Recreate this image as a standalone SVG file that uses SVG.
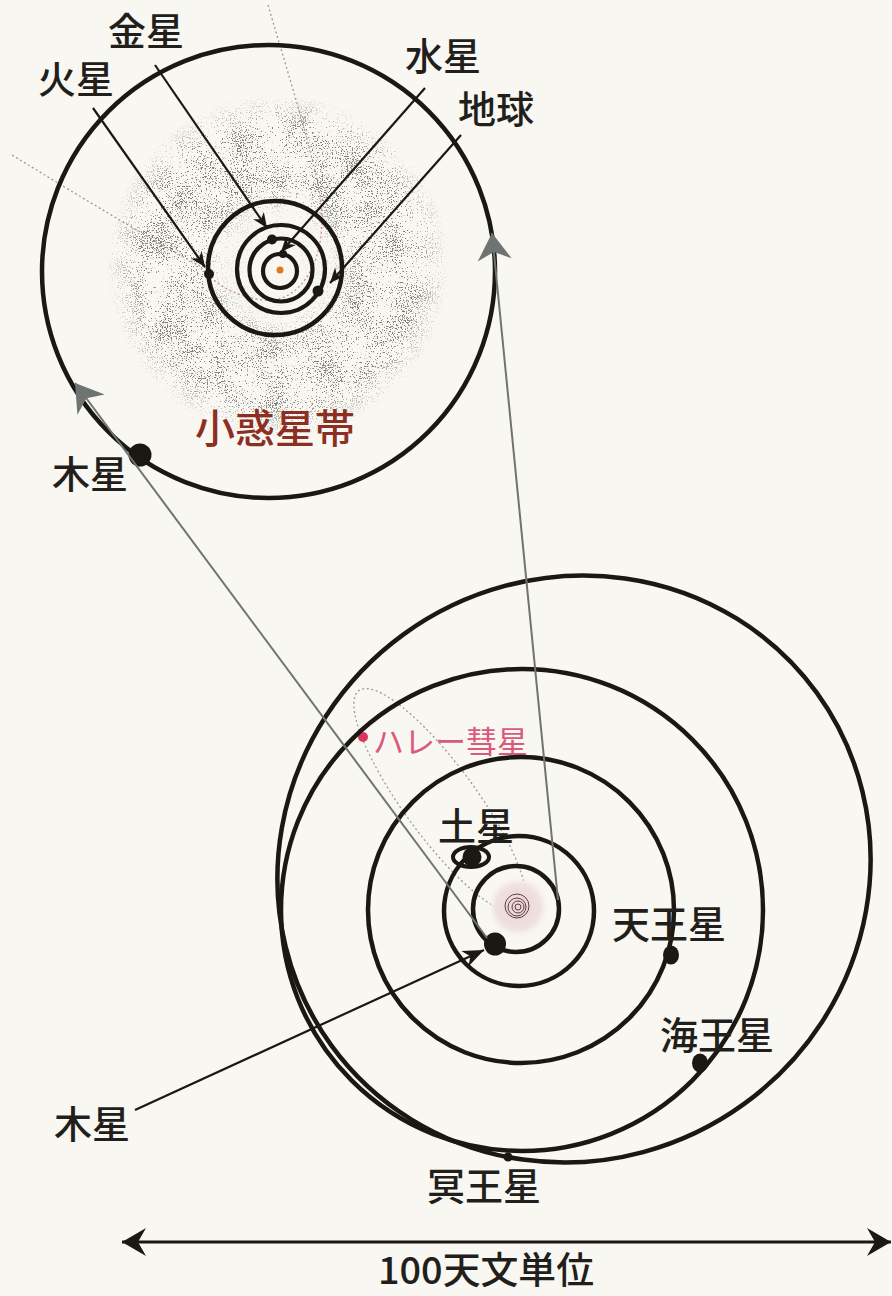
<svg xmlns="http://www.w3.org/2000/svg" width="892" height="1296" viewBox="0 0 892 1296">
  <defs>
    <style>
      .orbit { fill: none; stroke: #1b1713; stroke-width: 4.5; }
      .orbit-thin { fill: none; stroke: #1b1713; stroke-width: 4.2; }
      .planet { fill: #1b1713; }
      .lbl { font-family: "Noto Sans CJK JP", "Noto Sans CJK SC", sans-serif; font-size: 38px; font-weight: 500; fill: #221e1b; }
      .lead { stroke: #1b1713; stroke-width: 2.2; fill: none; }
      .zoomline { stroke: #6e7472; stroke-width: 2; fill: none; }
      .comet { fill: none; stroke: #9c9a98; stroke-width: 1.3; stroke-dasharray: 2 2.6; }
    </style>
    <!-- arrowheads -->
    <marker id="ahSmall" viewBox="-16 -7 17 14" refX="0" refY="0" markerWidth="17" markerHeight="14" orient="auto" markerUnits="userSpaceOnUse">
      <path d="M0,0 L-15,-6.5 L-10.5,0 L-15,6.5 Z" fill="#1b1713"/>
    </marker>
    <marker id="ahMid" viewBox="-22 -9 23 18" refX="0" refY="0" markerWidth="23" markerHeight="18" orient="auto" markerUnits="userSpaceOnUse">
      <path d="M0,0 L-21,-8.5 L-15,0 L-21,8.5 Z" fill="#1b1713"/>
    </marker>
    <marker id="ahGray" viewBox="-29 -19 30 38" refX="0" refY="0" markerWidth="30" markerHeight="38" orient="auto" markerUnits="userSpaceOnUse">
      <path d="M0,0 L-27,-17 L-19,0 L-27,17 Z" fill="#6e7472"/>
    </marker>
    <marker id="ahScale" viewBox="-25 -15 26 30" refX="0" refY="0" markerWidth="26" markerHeight="30" orient="auto-start-reverse" markerUnits="userSpaceOnUse">
      <path d="M0,0 L-24,-14 L-16,0 L-24,14 Z" fill="#1b1713"/>
    </marker>

    <!-- asteroid belt speckle: fine grain modulated by a coarse cloud -->
    <filter id="speckle" x="0" y="0" width="1" height="1" color-interpolation-filters="sRGB">
      <feTurbulence type="fractalNoise" baseFrequency="0.8" numOctaves="2" seed="11" result="fine"/>
      <feColorMatrix in="fine" type="matrix" values="0 0 0 0 0  0 0 0 0 0  0 0 0 0 0  1 0 0 0 0" result="fineA"/>
      <feTurbulence type="fractalNoise" baseFrequency="0.035" numOctaves="2" seed="4" result="coarse"/>
      <feColorMatrix in="coarse" type="matrix" values="0 0 0 0 0  0 0 0 0 0  0 0 0 0 0  1 0 0 0 0" result="coarseA"/>
      <feComposite in="fineA" in2="coarseA" operator="arithmetic" k1="0" k2="11" k3="4" k4="-8.55" result="dots"/>
      <feFlood flood-color="#6f6a66" result="ink"/>
      <feComposite in="ink" in2="dots" operator="in"/>
    </filter>
    <radialGradient id="beltFade" cx="278" cy="266" r="172" gradientUnits="userSpaceOnUse">
      <stop offset="0" stop-color="#000"/>
      <stop offset="0.3" stop-color="#222"/>
      <stop offset="0.48" stop-color="#ddd"/>
      <stop offset="0.8" stop-color="#ddd"/>
      <stop offset="1" stop-color="#000"/>
    </radialGradient>
    <mask id="beltMask" maskUnits="userSpaceOnUse" x="90" y="80" width="380" height="380">
      <rect x="90" y="80" width="380" height="380" fill="url(#beltFade)"/>
    </mask>
    <radialGradient id="innerHaze" cx="518" cy="907" r="32" gradientUnits="userSpaceOnUse">
      <stop offset="0" stop-color="#ebd3d5"/>
      <stop offset="0.7" stop-color="#f1e1e1"/>
      <stop offset="1" stop-color="#f8f7f1" stop-opacity="0"/>
    </radialGradient>
  </defs>

  <rect width="892" height="1296" fill="#f8f7f1"/>

  <!-- ===== enlarged inner solar system ===== -->
  <g id="asteroid-belt">
    <rect x="90" y="80" width="380" height="380" filter="url(#speckle)" mask="url(#beltMask)"/>
    <text class="lbl" x="195" y="443" style="font-size:40px; fill:#8c2f22">小惑星帯</text>
  </g>

  <g id="halley-path-inset">
    <path d="M268,5 C290,80 312,150 320,195" class="comet"/>
    <path d="M320,195 C330,260 300,305 262,300 C235,296 215,285 200,266" class="comet" style="stroke:#c98a90"/>
    <path d="M200,266 C170,250 110,215 12,155" class="comet"/>
  </g>

  <g id="inset-jupiter">
    <circle cx="268.5" cy="271.5" r="226.5" class="orbit"/>
    <circle cx="140" cy="455" r="11.5" class="planet"/>
    <text class="lbl" x="52" y="488">木星</text>
  </g>

  <g id="sun-inset">
    <circle cx="280" cy="270" r="3.5" fill="#e0791d"/>
  </g>

  <g id="mercury">
    <circle cx="280" cy="271" r="17" class="orbit-thin"/>
    <circle cx="283" cy="254" r="4" class="planet"/>
    <text class="lbl" x="405" y="70">水星</text>
  </g>

  <g id="venus">
    <circle cx="281" cy="270" r="31.5" class="orbit-thin"/>
    <circle cx="272" cy="239.5" r="5" class="planet"/>
    <text class="lbl" x="108" y="45">金星</text>
  </g>

  <g id="earth">
    <circle cx="281" cy="269" r="44" class="orbit-thin"/>
    <circle cx="318" cy="291" r="5.5" class="planet"/>
    <text class="lbl" x="458" y="123">地球</text>
  </g>

  <g id="mars">
    <circle cx="275" cy="268" r="67" class="orbit"/>
    <circle cx="209" cy="274" r="5" class="planet"/>
    <text class="lbl" x="38" y="93">火星</text>
  </g>

  <!-- ===== outer solar system ===== -->
  <g id="halley">
    <ellipse cx="440" cy="801" rx="137" ry="36" transform="rotate(53.7 440 801)" class="comet"/>
    <circle cx="363" cy="737" r="5" fill="#d8365c"/>
    <text x="373" y="753" style="font-family:'Noto Sans CJK JP','Noto Sans CJK SC',sans-serif; font-size:31px; fill:#da5a7b">ハレー彗星</text>
  </g>

  <g id="sun">
    <circle cx="518" cy="907" r="32" fill="url(#innerHaze)"/>
    <g fill="none" stroke="#5b3f40" stroke-width="1">
      <circle cx="518" cy="907" r="3"/>
      <circle cx="518" cy="907" r="6"/>
      <circle cx="517" cy="907" r="9"/>
      <circle cx="517" cy="906" r="12"/>
    </g>
  </g>

  <g id="jupiter">
    <circle cx="516" cy="909" r="43" class="orbit"/>
    <ellipse cx="495" cy="944" rx="11" ry="11.5" class="planet"/>
    <text class="lbl" x="54" y="1138">木星</text>
  </g>

  <g id="saturn">
    <circle cx="519" cy="911" r="75" class="orbit"/>
    <ellipse cx="471" cy="857" rx="18" ry="10" fill="none" stroke="#1b1713" stroke-width="4"/>
    <ellipse cx="472" cy="857" rx="9.5" ry="9.5" class="planet"/>
    <text class="lbl" x="438" y="840">土星</text>
  </g>

  <g id="uranus">
    <circle cx="521" cy="910" r="153" class="orbit"/>
    <ellipse cx="671" cy="955" rx="8" ry="9.5" class="planet"/>
    <text class="lbl" x="612" y="938">天王星</text>
  </g>

  <g id="neptune">
    <circle cx="522" cy="910" r="241" class="orbit"/>
    <ellipse cx="700" cy="1063" rx="8" ry="9.5" class="planet"/>
    <text class="lbl" x="660" y="1049">海王星</text>
  </g>

  <g id="pluto">
    <ellipse cx="574" cy="869" rx="300" ry="290" transform="rotate(-36 574 869)" class="orbit"/>
    <circle cx="508" cy="1157" r="4.5" class="planet"/>
    <text class="lbl" x="427" y="1200">冥王星</text>
  </g>

  <!-- ===== connectors ===== -->
  <g id="connectors">
    <line x1="93" y1="108" x2="205" y2="267" class="lead" marker-end="url(#ahSmall)"/>
    <line x1="155" y1="65" x2="267" y2="228" class="lead" marker-end="url(#ahSmall)"/>
    <line x1="425" y1="88" x2="281" y2="252" class="lead" marker-end="url(#ahSmall)"/>
    <line x1="461" y1="135" x2="330" y2="283" class="lead" marker-end="url(#ahSmall)"/>
    <line x1="135" y1="1110" x2="484" y2="950" class="lead" marker-end="url(#ahMid)"/>
    <line x1="487" y1="938" x2="75" y2="383" class="zoomline" marker-end="url(#ahGray)"/>
    <line x1="558" y1="900" x2="492" y2="233" class="zoomline" marker-end="url(#ahGray)"/>
  </g>

  <!-- ===== scale bar ===== -->
  <g id="scale">
    <line x1="122" y1="1242" x2="891" y2="1242" stroke="#1b1713" stroke-width="3.2" marker-start="url(#ahScale)" marker-end="url(#ahScale)"/>
    <text class="lbl" x="378" y="1284" style="font-size:37px" textLength="216" lengthAdjust="spacingAndGlyphs">100天文単位</text>
  </g>
</svg>
